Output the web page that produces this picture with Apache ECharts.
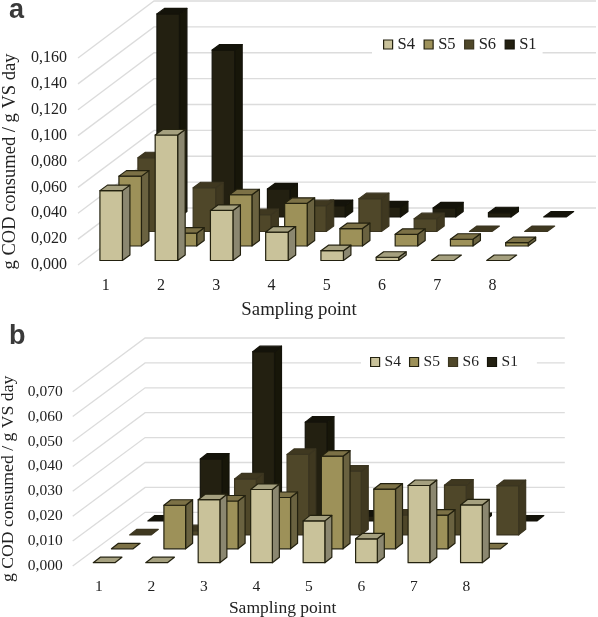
<!DOCTYPE html>
<html><head><meta charset="utf-8">
<style>html,body{margin:0;padding:0;background:#fff}#c{width:598px;height:617px}</style>
<script src="https://cdn.jsdelivr.net/npm/echarts@6/dist/echarts.min.js"></script>
</head><body><div id="c"></div>
<script>
const categories = ['1','2','3','4','5','6','7','8'];
const seriesNames = ['S4','S5','S6','S1'];
const ticksA = [0,0.02,0.04,0.06,0.08,0.10,0.12,0.14,0.16];
const ticksB = [0,0.01,0.02,0.03,0.04,0.05,0.06,0.07];

const a_S4 = [0.054,0.097,0.0387,0.022,0.0076,0.0025,0,0];
const a_S5 = [0.054,0.0099,0.0396,0.033,0.0135,0.009,0.0052,0.0026];
const a_S6 = [0.057,0.0338,0.013,0.020,0.0254,0.0099,0,0];
const a_S1 = [0.157,0.129,0.0217,0.0088,0.0078,0.007,0.0033,0];

const b_S4 = [0,0,0.0253,0.0294,0.0168,0.0096,0.031,0.0232];
const b_S5 = [0,0.0175,0.0192,0.0206,0.0372,0.024,0.0135,0];
const b_S6 = [0,0.0017,0.0225,0.0323,0.0256,0.008,0.020,0.0198];
const b_S1 = [0,0.0249,0.068,0.0397,0.002,0.001,0.001,0];

const palette = {
  S4:{front:'#c9c29a',top:'#a5a07f',side:'#8b8770',stroke:'#23210f'},
  S5:{front:'#9d9159',top:'#7c7146',side:'#6a6240',stroke:'#23210f'},
  S6:{front:'#4f4729',top:'#3f3820',side:'#3f3820',stroke:'#3b3520'},
  S1:{front:'#232011',top:'#14130a',side:'#171609',stroke:'#14130a'}
};
const geomA = {cx:5.55, base:4.5, stepX:19, stepY:14.5, w:22.5, sx:7.5, sy:5.5, wallX:76, wallY:57, width:442};
const geomB = {cx:5.15, base:3.3, stepX:18.2, stepY:13.9, w:21.7, sx:7, sy:5.5, wallX:72.4, wallY:53.7, width:419.7};

function barRenderer(g, depth, col){
  return function(params, api){
    const i = api.value(0), v = api.value(1);
    const p0 = api.coord([i,0]), p1 = api.coord([i,v]);
    const x0 = p0[0] + g.cx + depth*g.stepX - g.w/2;
    const x1 = x0 + g.w;
    const yb = p0[1] - g.base - depth*g.stepY;
    const yt = yb - (p0[1]-p1[1]);
    const st = {stroke:col.stroke, lineWidth:1.2, lineJoin:'round'};
    const poly = (pts,fill)=>({type:'polygon',shape:{points:pts},style:Object.assign({fill},st)});
    const kids = [];
    if (v>0){
      kids.push(poly([[x1,yb],[x1+g.sx,yb-g.sy],[x1+g.sx,yt-g.sy],[x1,yt]],col.side));
      kids.push(poly([[x0,yb],[x1,yb],[x1,yt],[x0,yt]],col.front));
    }
    kids.push(poly([[x0,yt],[x1,yt],[x1+g.sx,yt-g.sy],[x0+g.sx,yt-g.sy]],col.top));
    return {type:'group',children:kids};
  };
}
function wallRenderer(g){
  return function(params, api){
    const p = api.coord([0,api.value(0)]);
    const x0 = p[0]-g.width/16, y0 = p[1];
    const x1 = x0+g.wallX, y1 = y0-g.wallY;
    return {type:'polyline',shape:{points:[[x0,y0],[x1,y1],[x1+g.width,y1]]},
      style:{fill:null,stroke:'#dcdcdc',lineWidth:1.3}};
  };
}
function panelSeries(idx, g, ticks, arrs){
  const out = [{type:'custom',name:'gridlines',xAxisIndex:idx,yAxisIndex:idx,coordinateSystem:'cartesian2d',
    clip:false,silent:true,z:1,data:ticks.map(t=>[t]),encode:{y:0},renderItem:wallRenderer(g)}];
  [3,2,1,0].forEach(d=>{
    const n = seriesNames[d];
    out.push({type:'custom',name:n,xAxisIndex:idx,yAxisIndex:idx,coordinateSystem:'cartesian2d',clip:false,
      z:2+(3-d),itemStyle:{color:palette[n].front},
      data:arrs[d].map((v,i)=>[i,v]),encode:{x:0,y:1},renderItem:barRenderer(g,d,palette[n])});
  });
  return out;
}
const serif = '"Liberation Serif","Times New Roman",serif';
const legendData = seriesNames.map(n=>({name:n,icon:'rect',itemStyle:{color:palette[n].front,borderColor:palette[n].stroke,borderWidth:1.2}}));
function axisX(idx, gap, fs, nameFs){
  return {type:'category',gridIndex:idx,data:categories,axisLine:{show:false},axisTick:{show:false},splitLine:{show:false},
    axisLabel:{margin:13,color:'#222',fontFamily:serif,fontSize:fs},
    name:'Sampling point',nameLocation:'middle',nameGap:gap,nameTextStyle:{color:'#222',fontFamily:serif,fontSize:nameFs}};
}
function axisY(idx, max, itv, gap, fs, nameFs, m){
  return {type:'value',gridIndex:idx,min:0,max:max,interval:itv,axisLine:{show:false},axisTick:{show:false},splitLine:{show:false},
    axisLabel:{margin:m,color:'#222',fontFamily:serif,fontSize:fs,formatter:v=>v.toFixed(3).replace('.',',')},
    name:'g COD consumed / g VS day',nameLocation:'middle',nameGap:gap,nameRotate:90,
    nameTextStyle:{color:'#222',fontFamily:serif,fontSize:nameFs}};
}
const chart = echarts.init(document.getElementById('c'),null,{renderer:'canvas'});
chart.setOption({
  animation:false,backgroundColor:'#fff',
  title:[
    {text:'a',left:9,top:-3,padding:0,textStyle:{fontFamily:'"Liberation Sans",sans-serif',fontWeight:'bold',fontSize:27,color:'#3a3a3a'}},
    {text:'b',left:9,top:323,padding:0,textStyle:{fontFamily:'"Liberation Sans",sans-serif',fontWeight:'bold',fontSize:27,color:'#3a3a3a'}}
  ],
  grid:[
    {left:78,top:58,width:442,height:207,outerBoundsMode:'none'},
    {left:72.7,top:391.7,width:419.8,height:174.3,outerBoundsMode:'none'}
  ],
  xAxis:[axisX(0,36,16,18.8),axisX(1,33,15.5,17.5)],
  yAxis:[axisY(0,0.16,0.02,56,16,18.5,11),axisY(1,0.07,0.01,52,15.5,17.7,10)],
  legend:[
    {left:372,top:34,padding:[2,6,4,11],itemGap:8.5,itemWidth:9,itemHeight:9,backgroundColor:'#fff',
      data:legendData,textStyle:{color:'#222',fontFamily:serif,fontSize:16.5},selectedMode:false},
    {left:361,top:352,padding:[2,19,2,9],itemGap:8,itemWidth:9,itemHeight:9,backgroundColor:'#fff',
      data:legendData,textStyle:{color:'#222',fontFamily:serif,fontSize:15.5},selectedMode:false}
  ],
  series:[].concat(
    panelSeries(0,geomA,ticksA,[a_S4,a_S5,a_S6,a_S1]),
    panelSeries(1,geomB,ticksB,[b_S4,b_S5,b_S6,b_S1])
  )
});
</script></body></html>
